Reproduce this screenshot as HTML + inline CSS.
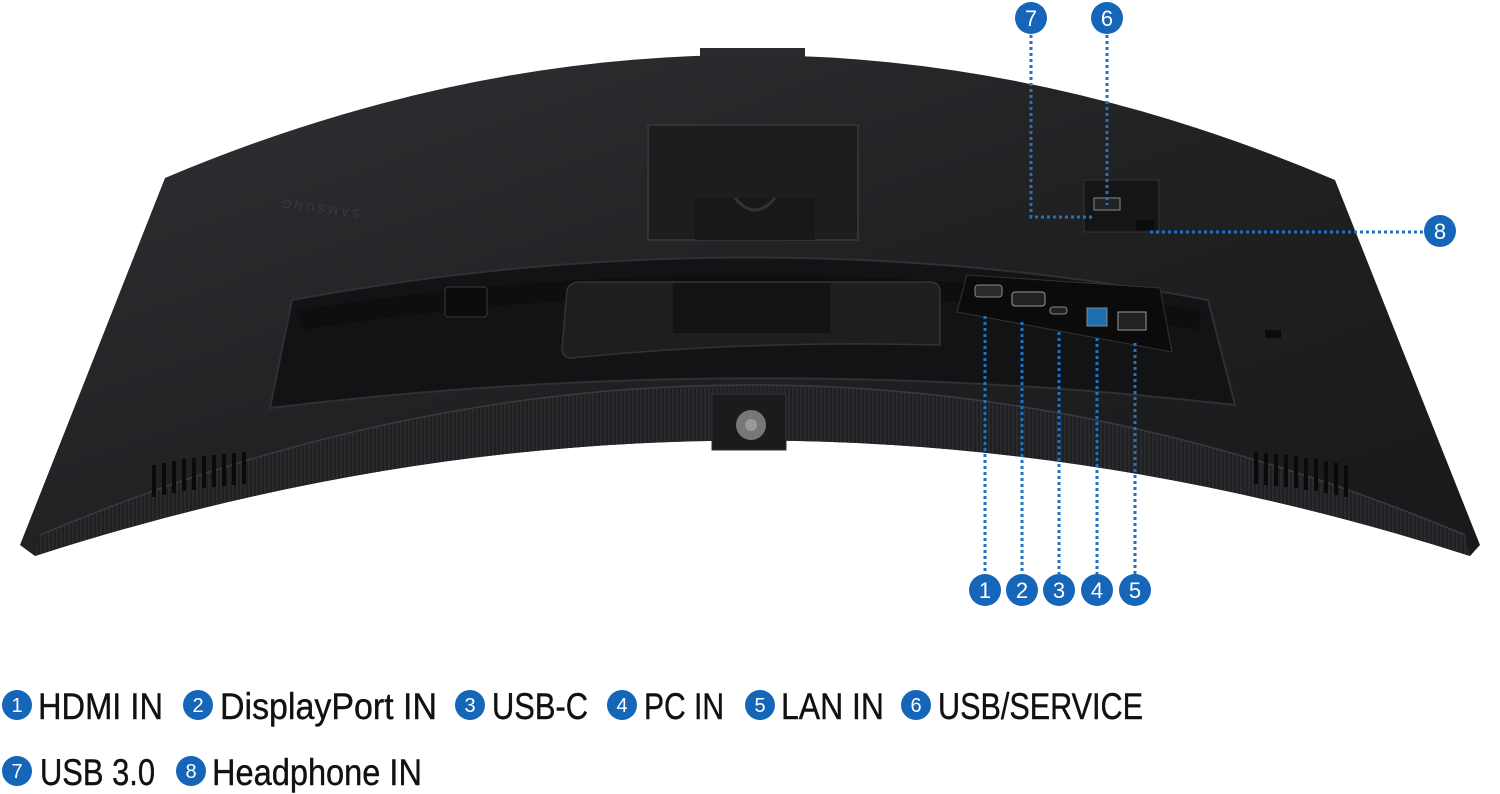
<!DOCTYPE html>
<html><head><meta charset="utf-8"><style>
html,body{margin:0;padding:0;background:#fff;width:1500px;height:794px;overflow:hidden}
svg{display:block}
</style></head><body>
<svg width="1500" height="794" viewBox="0 0 1500 794" xmlns="http://www.w3.org/2000/svg" font-family="Liberation Sans, sans-serif">
<defs>
<linearGradient id="bg" x1="0" y1="0" x2="1" y2="1">
<stop offset="0" stop-color="#303134"/><stop offset="0.5" stop-color="#202123"/><stop offset="1" stop-color="#18191b"/>
</linearGradient>
<pattern id="stripe" width="4" height="4" patternUnits="userSpaceOnUse">
<rect width="4" height="4" fill="#1f2022"/><rect width="2" height="4" fill="#2a2b2e"/>
</pattern>
</defs>
<rect x="700" y="48" width="105" height="12" fill="#2a2b2e"/>
<path d="M165,178 Q750,-69 1335,180 L1480,545 L1470,556 Q750,325 35,556 L20,545 Z" fill="url(#bg)"/>
<path d="M40,535 Q750,235 1465,535 L1470,556 Q750,325 35,556 Z" fill="url(#stripe)" opacity="0.95"/>
<path d="M40,535 Q750,235 1465,535" fill="none" stroke="#3a3b3e" stroke-width="1.5"/>
<text x="360" y="218" font-size="12" fill="#3a3b3e" letter-spacing="3" transform="rotate(-172 360 214)">SAMSUNG</text>
<rect x="648" y="125" width="210" height="115" fill="#1c1d1f" stroke="#333" stroke-width="2"/>
<rect x="695" y="198" width="120" height="42" fill="#17181a"/>
<path d="M735,198 Q755,222 775,198" fill="none" stroke="#333" stroke-width="3"/>
<path d="M292,300 Q750,215 1208,300 L1235,405 Q750,350 270,408 Z" fill="#121315" stroke="#2f3033" stroke-width="2"/>
<path d="M300,320 Q750,250 1200,320" fill="none" stroke="#0b0c0d" stroke-width="20" opacity="0.6"/>
<rect x="445" y="287" width="42" height="30" rx="3" fill="#0c0c0d" stroke="#3a3a3a"/>
<path d="M567,290 Q570,282 580,282 L930,282 Q940,282 940,292 L940,345 Q750,340 572,358 Q562,358 562,348 Z" fill="#1d1e20" stroke="#333" stroke-width="1.5"/>
<rect x="673" y="283" width="157" height="50" fill="#121314"/>
<path d="M967,275 L1160,288 L1172,352 L957,312 Z" fill="#0b0b0c" stroke="#333"/>
<rect x="975" y="285" width="27" height="12" rx="3" fill="#2a2a2a" stroke="#888" stroke-width="1"/>
<rect x="1012" y="292" width="33" height="14" rx="3" fill="#222" stroke="#999"/>
<rect x="1050" y="307" width="17" height="7" rx="3" fill="#222" stroke="#888"/>
<rect x="1087" y="308" width="20" height="18" fill="#1e6fb0" stroke="#888"/>
<rect x="1118" y="312" width="28" height="18" fill="#222" stroke="#999"/>
<rect x="1084" y="180" width="75" height="52" fill="#141516" stroke="#333"/>
<rect x="1094" y="198" width="26" height="12" fill="#222" stroke="#888"/>
<rect x="1136" y="220" width="18" height="10" fill="#0c0c0c"/>
<rect x="1265" y="330" width="16" height="8" fill="#0c0c0c"/>
<rect x="712" y="394" width="74" height="56" fill="#1a1b1d" stroke="#333"/>
<circle cx="751" cy="425" r="15" fill="#777"/><circle cx="751" cy="425" r="6" fill="#999"/>
<g fill="#0a0a0a">
<rect x="152" y="465" width="4" height="32"/><rect x="162" y="463" width="4" height="32"/><rect x="172" y="461" width="4" height="32"/><rect x="182" y="459" width="4" height="32"/><rect x="192" y="458" width="4" height="32"/><rect x="202" y="456" width="4" height="32"/><rect x="212" y="455" width="4" height="32"/><rect x="222" y="454" width="4" height="32"/><rect x="232" y="453" width="4" height="32"/><rect x="242" y="452" width="4" height="32"/>
<rect x="1254" y="452" width="4" height="32"/><rect x="1264" y="453" width="4" height="32"/><rect x="1274" y="454" width="4" height="32"/><rect x="1284" y="455" width="4" height="32"/><rect x="1294" y="456" width="4" height="32"/><rect x="1304" y="458" width="4" height="32"/><rect x="1314" y="459" width="4" height="32"/><rect x="1324" y="461" width="4" height="32"/><rect x="1334" y="463" width="4" height="32"/><rect x="1344" y="465" width="4" height="32"/>
</g>
<g stroke="#1f72c4" stroke-width="3" stroke-dasharray="3,3" fill="none">
<path d="M1031,35 L1031,217 L1095,217"/>
<path d="M1107,35 L1107,205"/>
<path d="M1150,232 L1424,232"/>
<path d="M985,316 L985,574"/><path d="M1022,322 L1022,574"/><path d="M1059,332 L1059,574"/><path d="M1097,338 L1097,574"/><path d="M1135,343 L1135,574"/>
</g>
<g font-size="22" fill="#fff" text-anchor="middle">
<circle cx="1031" cy="18" r="16" fill="#1565b8"/><text x="1031" y="26">7</text>
<circle cx="1107" cy="18" r="16" fill="#1565b8"/><text x="1107" y="26">6</text>
<circle cx="1440" cy="231" r="16" fill="#1565b8"/><text x="1440" y="239">8</text>
<circle cx="985" cy="590" r="16" fill="#1565b8"/><text x="985" y="598">1</text>
<circle cx="1022" cy="590" r="16" fill="#1565b8"/><text x="1022" y="598">2</text>
<circle cx="1059" cy="590" r="16" fill="#1565b8"/><text x="1059" y="598">3</text>
<circle cx="1097" cy="590" r="16" fill="#1565b8"/><text x="1097" y="598">4</text>
<circle cx="1135" cy="590" r="16" fill="#1565b8"/><text x="1135" y="598">5</text>
</g>
<g font-size="20" fill="#fff" text-anchor="middle">
<circle cx="17" cy="705" r="15" fill="#1565b8"/><text x="17" y="712">1</text>
<circle cx="198" cy="705" r="15" fill="#1565b8"/><text x="198" y="712">2</text>
<circle cx="470" cy="705" r="15" fill="#1565b8"/><text x="470" y="712">3</text>
<circle cx="622" cy="705" r="15" fill="#1565b8"/><text x="622" y="712">4</text>
<circle cx="760" cy="705" r="15" fill="#1565b8"/><text x="760" y="712">5</text>
<circle cx="916" cy="705" r="15" fill="#1565b8"/><text x="916" y="712">6</text>
<circle cx="17" cy="771" r="15" fill="#1565b8"/><text x="17" y="778">7</text>
<circle cx="191" cy="771" r="15" fill="#1565b8"/><text x="191" y="778">8</text>
</g>
<g font-size="37" fill="#111" stroke="#111" stroke-width="0.4">
<text x="38" y="719" textLength="125" lengthAdjust="spacingAndGlyphs">HDMI IN</text>
<text x="220" y="719" textLength="217" lengthAdjust="spacingAndGlyphs">DisplayPort IN</text>
<text x="492" y="719" textLength="96" lengthAdjust="spacingAndGlyphs">USB-C</text>
<text x="644" y="719" textLength="80" lengthAdjust="spacingAndGlyphs">PC IN</text>
<text x="781" y="719" textLength="103" lengthAdjust="spacingAndGlyphs">LAN IN</text>
<text x="938" y="719" textLength="205" lengthAdjust="spacingAndGlyphs">USB/SERVICE</text>
<text x="40" y="785" textLength="115" lengthAdjust="spacingAndGlyphs">USB 3.0</text>
<text x="212" y="785" textLength="210" lengthAdjust="spacingAndGlyphs">Headphone IN</text>
</g>
</svg>
</body></html>
